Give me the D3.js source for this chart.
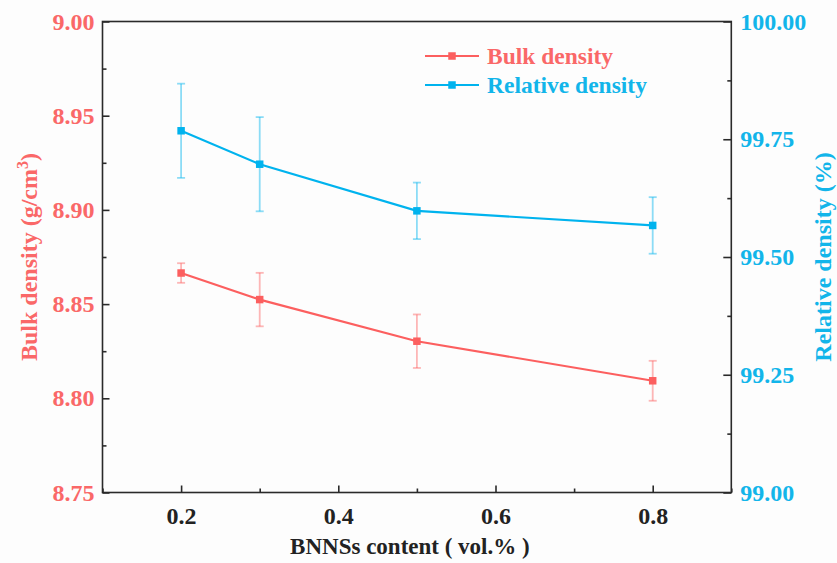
<!DOCTYPE html>
<html>
<head>
<meta charset="utf-8">
<script src="https://cdn.jsdelivr.net/npm/d3@7"></script>
<style>
  body { margin: 0; background: #fdfdfd; }
  svg { display: block; }
  text { font-family: "Liberation Serif", "Times New Roman", serif; font-weight: bold; }
</style>
</head>
<body>
<svg width="837" height="563"></svg>
<script>
// values
var content = [0.2, 0.3, 0.5, 0.8];
var bulkDensity = [8.8665, 8.8524, 8.8303, 8.8093];
var bulkErr = [0.0052, 0.0142, 0.0142, 0.0106];
var relDensity = [99.768, 99.697, 99.598, 99.567];
var relErr = [0.100, 0.100, 0.060, 0.060];

var xTicks = [0.2, 0.4, 0.6, 0.8];
var xMinor = [0.1, 0.3, 0.5, 0.7, 0.9];
var leftTicks = [8.75, 8.80, 8.85, 8.90, 8.95, 9.00];
var leftMinor = [8.775, 8.825, 8.875, 8.925, 8.975];
var rightTicks = [99.00, 99.25, 99.50, 99.75, 100.00];
var rightMinor = [99.125, 99.375, 99.625, 99.875];

var red = "#fc5f5f", redText = "#fa6868";
var blue = "#00b3ee", blueText = "#12b5ea";

var svg = d3.select("svg");
// note: "top" is taken by window.top, so use other names
var pLeft = 102.5, pRight = 731.3, pTop = 21.5, pBottom = 492.5;

var x = d3.scaleLinear().domain([0.1, 0.9]).range([pLeft, pRight]);
var yL = d3.scaleLinear().domain([8.75, 9.00]).range([pBottom, pTop]);
var yR = d3.scaleLinear().domain([99, 100]).range([pBottom, pTop]);

// frame
svg.append("rect")
    .attr("x", pLeft).attr("y", pTop)
    .attr("width", pRight - pLeft).attr("height", pBottom - pTop)
    .style("fill", "none")
    .style("stroke", "#2a2a2a")
    .style("stroke-width", 1.6);

// axes, ticks inward
function styleAxis(g, color) {
  g.select(".domain").remove();
  g.selectAll("line").style("stroke", "#2a2a2a").style("stroke-width", 1.6);
  g.selectAll("text")
      .style("font-size", "24px")
      .style("fill", color);
}

svg.append("g")
    .attr("transform", "translate(0," + pBottom + ")")
    .call(d3.axisBottom(x).tickValues(xMinor).tickSize(-4).tickFormat(""))
    .call(styleAxis, "#222");
svg.append("g")
    .attr("transform", "translate(0," + pBottom + ")")
    .call(d3.axisBottom(x).tickValues(xTicks).tickSize(-7).tickPadding(14).tickFormat(d3.format(".1f")))
    .call(styleAxis, "#222");

svg.append("g")
    .attr("transform", "translate(" + pLeft + ",0)")
    .call(d3.axisLeft(yL).tickValues(leftMinor).tickSize(-4).tickFormat(""))
    .call(styleAxis, redText);
svg.append("g")
    .attr("transform", "translate(" + pLeft + ",0)")
    .call(d3.axisLeft(yL).tickValues(leftTicks).tickSize(-7).tickPadding(8).tickFormat(d3.format(".2f")))
    .call(styleAxis, redText);

svg.append("g")
    .attr("transform", "translate(" + pRight + ",0)")
    .call(d3.axisRight(yR).tickValues(rightMinor).tickSize(-4).tickFormat(""))
    .call(styleAxis, blueText);
svg.append("g")
    .attr("transform", "translate(" + pRight + ",0)")
    .call(d3.axisRight(yR).tickValues(rightTicks).tickSize(-8).tickPadding(9).tickFormat(d3.format(".2f")))
    .call(styleAxis, blueText);

// axis titles
svg.append("text")
    .attr("x", (pLeft + pRight) / 2 - 7)
    .attr("y", 554)
    .attr("text-anchor", "middle")
    .style("font-size", "23px")
    .style("fill", "#222")
    .text("BNNSs content ( vol.% )");

var lt = svg.append("text")
    .attr("transform", "translate(37," + (pTop + pBottom) / 2 + ") rotate(-90)")
    .attr("text-anchor", "middle")
    .style("font-size", "24px")
    .style("fill", redText);
lt.append("tspan").text("Bulk density (g/cm");
lt.append("tspan").attr("dy", -9).style("font-size", "16px").text("3");
lt.append("tspan").attr("dy", 9).text(")");

svg.append("text")
    .attr("transform", "translate(831," + (pTop + pBottom) / 2 + ") rotate(-90)")
    .attr("text-anchor", "middle")
    .style("font-size", "24px")
    .style("fill", blueText)
    .text("Relative density (%)");

// series
var series = [
  {name: "Bulk density", vals: bulkDensity, err: bulkErr, y: yL, color: red, text: redText},
  {name: "Relative density", vals: relDensity, err: relErr, y: yR, color: blue, text: blueText}
];

series.forEach(function(s) {
  var pts = content.map(function(c, i) { return {x: c, v: s.vals[i], e: s.err[i]}; });
  var g = svg.append("g");

  // error bars
  var eb = g.selectAll(".err").data(pts).enter().append("g")
      .style("stroke", s.color)
      .style("stroke-opacity", 0.45)
      .style("stroke-width", 1.8);
  eb.append("line")
      .attr("x1", function(d) { return x(d.x); })
      .attr("x2", function(d) { return x(d.x); })
      .attr("y1", function(d) { return s.y(d.v + d.e); })
      .attr("y2", function(d) { return s.y(d.v - d.e); });
  [1, -1].forEach(function(sign) {
    eb.append("line")
        .attr("x1", function(d) { return x(d.x) - 4; })
        .attr("x2", function(d) { return x(d.x) + 4; })
        .attr("y1", function(d) { return s.y(d.v + sign * d.e); })
        .attr("y2", function(d) { return s.y(d.v + sign * d.e); });
  });

  g.append("path")
      .datum(pts)
      .attr("d", d3.line().x(function(d) { return x(d.x); }).y(function(d) { return s.y(d.v); }))
      .style("fill", "none")
      .style("stroke", s.color)
      .style("stroke-width", 2.2);

  g.selectAll("rect").data(pts).enter().append("rect")
      .attr("x", function(d) { return x(d.x) - 3.75; })
      .attr("y", function(d) { return s.y(d.v) - 3.75; })
      .attr("width", 7.5).attr("height", 7.5)
      .style("fill", s.color);
});

// legend
var leg = svg.append("g").selectAll("g")
    .data(series)
    .enter().append("g")
    .attr("transform", function(d, i) { return "translate(425," + (56 + i * 29) + ")"; });
leg.append("line")
    .attr("x1", 0).attr("x2", 54)
    .style("stroke", function(d) { return d.color; })
    .style("stroke-width", 2.2);
leg.append("rect")
    .attr("x", 23.25).attr("y", -3.75)
    .attr("width", 7.5).attr("height", 7.5)
    .style("fill", function(d) { return d.color; });
leg.append("text")
    .attr("x", 62)
    .attr("dy", ".35em")
    .style("font-size", "23.5px")
    .style("fill", function(d) { return d.text; })
    .text(function(d) { return d.name; });
</script>
</body>
</html>
